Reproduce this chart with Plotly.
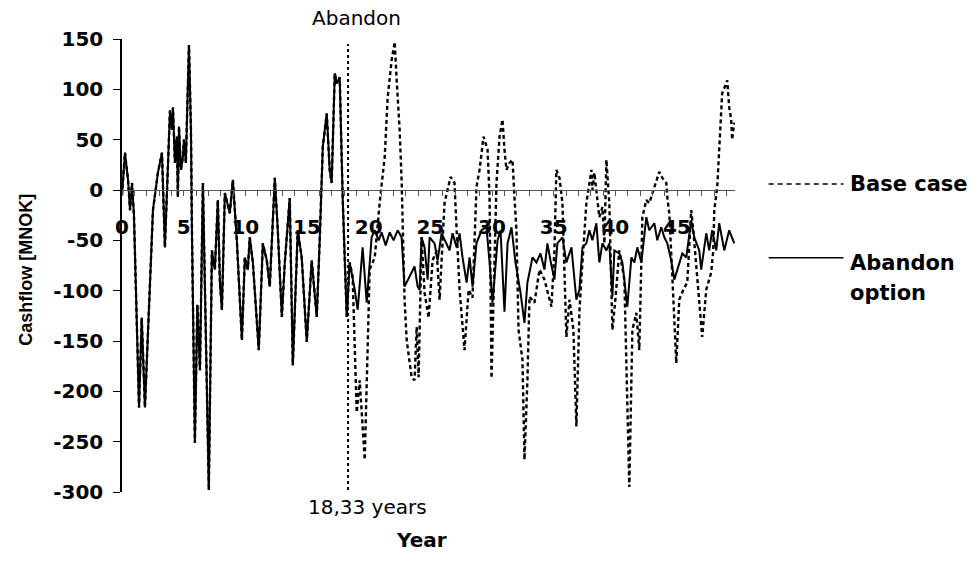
import plotly.graph_objects as go

# ---------------------------------------------------------------------------
# Cash flow per year [MNOK]; both cases coincide until the abandonment point
# ---------------------------------------------------------------------------
years_shared = [0.00, 0.24, 0.49, 0.65, 0.81, 0.97, 1.38, 1.60, 1.86, 2.27,
                2.51, 2.91, 3.24, 3.48, 3.89, 4.05, 4.13, 4.29, 4.45, 4.53,
                4.62, 4.78, 4.94, 5.02, 5.18, 5.26, 5.43, 5.59, 5.67, 5.91,
                6.11, 6.32, 6.56, 7.04, 7.29, 7.53, 7.77, 7.94, 8.10, 8.34,
                8.74, 8.99, 9.31, 9.72, 9.96, 10.20, 10.36, 10.61, 10.93, 11.09,
                11.42, 11.74, 11.98, 12.39, 12.63, 12.96, 13.20, 13.60, 13.85, 14.25,
                14.57, 14.98, 15.38, 15.79, 16.03, 16.28, 16.60, 16.84, 17.00, 17.25,
                17.41, 17.65, 17.89, 18.06, 18.22, 18.46, 18.70]
cashflow_shared = [-5, 37, 10, -20, 7, -25, -216, -127, -216, -99,
                   -20, 17, 37, -57, 79, 60, 82, 27, 53, -7,
                   63, 20, 33, 50, 27, 67, 144, 60, -40, -251,
                   -114, -179, 7, -298, -60, -79, -10, -92, -119, -3,
                   -23, 10, -50, -149, -67, -79, -47, -72, -129, -159,
                   -53, -70, -96, 12, -40, -126, -72, -8, -174, -40,
                   -67, -151, -70, -126, -50, 43, 76, 20, 7, 116,
                   106, 112, -7, -67, -126, -72, -86]

# Base case: production continues after the abandonment point
years_base_tail = [19.03, 19.27, 19.68, 20.08, 20.49, 20.89, 21.30, 21.54, 21.86, 22.11,
                   22.27, 22.51, 22.67, 22.75, 22.91, 23.08, 23.48, 23.72, 23.89, 24.05,
                   24.29, 24.53, 24.86, 25.18, 25.51, 25.75, 26.15, 26.64, 26.96, 27.13,
                   27.37, 27.77, 28.10, 28.42, 28.74, 28.99, 29.31, 29.64, 29.80, 29.96,
                   30.20, 30.36, 30.61, 30.85, 31.01, 31.17, 31.42, 31.66, 31.82, 31.98,
                   32.15, 32.47, 32.63, 32.87, 33.04, 33.44, 33.85, 34.25, 34.82, 35.06,
                   35.22, 35.47, 35.71, 36.03, 36.28, 36.60, 36.84, 37.09, 37.33, 37.65,
                   38.06, 38.14, 38.30, 38.54, 38.70, 38.95, 39.11, 39.27, 39.51, 39.76,
                   40.00, 40.32, 40.73, 41.13, 41.38, 41.70, 41.94, 42.19, 42.51, 42.75,
                   43.16, 43.56, 43.81, 44.13, 44.21, 44.37, 44.62, 44.94, 45.18, 45.51,
                   45.83, 46.15, 46.32, 46.64, 47.04, 47.37, 47.77, 47.94, 48.02, 48.26,
                   48.42, 48.58, 48.66, 48.99, 49.07, 49.23, 49.39, 49.47, 49.64]
base_tail = [-221, -189, -268, -79, -67, -13, 33, 92, 129, 147,
             109, 60, 10, -40, -109, -149, -186, -189, -136, -186,
             -47, -102, -127, -70, -60, -109, -13, 13, 7, -40,
             -99, -159, -99, -107, 3, 20, 53, 40, -7, -187,
             -60, 7, 53, 70, 40, 20, 27, 30, -7, -40,
             -139, -169, -268, -189, -106, -112, -79, -89, -116, -60,
             20, 12, -13, -146, -109, -139, -235, -119, -72, -13,
             20, 0, 17, -10, -27, -17, -53, 30, -13, -139,
             -109, -60, -89, -295, -139, -122, -159, -27, -10, -13,
             3, 18, 12, 7, -7, -23, -86, -172, -109, -99,
             -92, -20, -40, -89, -146, -99, -82, -60, -20, 3,
             43, 76, 96, 106, 109, 82, 70, 50, 67]

# Abandon option: remaining cash flow after the field is abandoned
years_abandon_tail = [18.87, 19.11, 19.51, 19.84, 20.24, 20.49, 20.81, 21.05, 21.38, 21.70,
                      22.02, 22.35, 22.67, 22.91, 23.32, 23.72, 23.97, 24.13, 24.29, 24.53,
                      24.78, 24.94, 25.34, 25.59, 25.91, 26.32, 26.56, 26.80, 27.13, 27.37,
                      27.61, 27.94, 28.18, 28.42, 28.74, 29.15, 29.55, 29.80, 30.04, 30.45,
                      30.69, 31.01, 31.26, 31.58, 31.90, 32.31, 32.63, 32.87, 33.28, 33.60,
                      33.93, 34.25, 34.49, 34.74, 35.06, 35.30, 35.71, 36.03, 36.44, 36.84,
                      37.09, 37.33, 37.65, 37.89, 38.14, 38.46, 38.70, 38.95, 39.27, 39.51,
                      39.76, 39.92, 40.32, 40.57, 40.97, 41.30, 41.54, 41.78, 42.11, 42.51,
                      42.75, 43.16, 43.40, 43.72, 43.97, 44.21, 44.53, 44.78, 45.18, 45.43,
                      45.75, 46.15, 46.40, 46.80, 46.96, 47.37, 47.61, 47.85, 48.18, 48.42,
                      48.83, 49.23, 49.64]
abandon_tail = [-99, -119, -57, -112, -47, -40, -50, -42, -55, -42,
                -50, -40, -47, -96, -86, -76, -96, -99, -47, -57,
                -89, -47, -53, -70, -43, -53, -60, -43, -57, -43,
                -67, -92, -67, -96, -53, -40, -37, -72, -112, -50,
                -40, -121, -53, -37, -72, -102, -132, -92, -67, -72,
                -63, -79, -53, -70, -89, -53, -47, -72, -57, -109,
                -99, -57, -53, -40, -50, -33, -72, -53, -60, -53,
                -106, -60, -63, -72, -116, -67, -72, -57, -72, -27,
                -40, -33, -50, -37, -47, -53, -70, -89, -72, -63,
                -67, -30, -47, -60, -79, -43, -60, -40, -60, -33,
                -60, -40, -53]

ABANDON_YEAR = 18.33
y_ticks = [150, 100, 50, 0, -50, -100, -150, -200, -250, -300]
x_ticks = [0, 5, 10, 15, 20, 25, 30, 35, 40, 45]

FONT = "DejaVu Sans"
BASE_DASH = "4px,3px"

years_base = years_shared + years_base_tail
cash_base = cashflow_shared + base_tail
years_abandon = years_shared + years_abandon_tail
cash_abandon = cashflow_shared + abandon_tail

fig = go.Figure()
fig.add_trace(go.Scatter(x=years_base, y=cash_base, mode="lines", name="Base case",
                         line=dict(color="black", width=2.4, dash=BASE_DASH),
                         showlegend=False))
fig.add_trace(go.Scatter(x=years_abandon, y=cash_abandon, mode="lines", name="Abandon option",
                         line=dict(color="black", width=2),
                         showlegend=False))

# abandonment marker
fig.add_shape(type="line", xref="x", yref="y", x0=ABANDON_YEAR, x1=ABANDON_YEAR,
              y0=-298, y1=145, line=dict(color="black", width=2, dash="dot"))

label_font = dict(family=FONT, size=20, color="black")
bold_font = dict(family=FONT, size=20, color="black", weight="bold")
legend_font = dict(family=FONT, size=21, color="black", weight="bold")

annotations = [
    dict(text="Abandon", x=0.383, y=1.046, xref="paper", yref="paper",
         showarrow=False, font=label_font, xanchor="center", yanchor="middle"),
    dict(text=f"{ABANDON_YEAR:.2f}".replace(".", ",") + " years", x=0.40, y=-0.033,
         xref="paper", yref="paper", showarrow=False, font=label_font,
         xanchor="center", yanchor="middle"),
    dict(text="Year", x=0.489, y=-0.106, xref="paper", yref="paper", showarrow=False,
         font=bold_font, xanchor="center", yanchor="middle"),
    dict(text="Cashflow [MNOK]", x=-0.157, y=0.49, xref="paper", yref="paper",
         showarrow=False, textangle=-90, xanchor="center", yanchor="middle",
         font=dict(family="Liberation Sans", size=18, color="black", weight="bold")),
    # legend entries
    dict(text="Base case", x=1.185, y=0.68, xref="paper", yref="paper", showarrow=False,
         font=legend_font, xanchor="left", yanchor="middle"),
    dict(text="Abandon", x=1.185, y=0.506, xref="paper", yref="paper", showarrow=False,
         font=legend_font, xanchor="left", yanchor="middle"),
    dict(text="option", x=1.185, y=0.44, xref="paper", yref="paper", showarrow=False,
         font=legend_font, xanchor="left", yanchor="middle"),
]

fig.add_shape(type="line", xref="paper", yref="paper", x0=1.055, x1=1.177, y0=0.680, y1=0.680,
              line=dict(color="black", width=1.5, dash="5px,4px"))
fig.add_shape(type="line", xref="paper", yref="paper", x0=1.055, x1=1.177, y0=0.517, y1=0.517,
              line=dict(color="black", width=1.5))

fig.update_layout(
    width=978, height=569,
    margin=dict(l=122, r=243, t=39, b=77),
    paper_bgcolor="white", plot_bgcolor="white",
    annotations=annotations,
    xaxis=dict(range=[0, 49.7], anchor="free", position=300 / 450,
               showline=True, linecolor="#555555", linewidth=1,
               ticks="outside", ticklen=5, tickcolor="#555555", tickwidth=1,
               tickvals=x_ticks, ticktext=[str(v) for v in x_ticks],
               minor=dict(dtick=1, tick0=0, ticks="outside", ticklen=5,
                          tickcolor="#555555", tickwidth=1),
               tickfont=bold_font, ticklabelstandoff=14,
               showgrid=False, zeroline=False),
    yaxis=dict(range=[-300, 150], showline=True, linecolor="black", linewidth=1.5,
               ticks="outside", ticklen=7, tickcolor="black", tickwidth=1,
               tickvals=y_ticks, ticktext=[str(v) for v in y_ticks],
               tickfont=bold_font, ticklabelstandoff=6,
               showgrid=False, zeroline=False),
)

fig.write_html("out.html")
